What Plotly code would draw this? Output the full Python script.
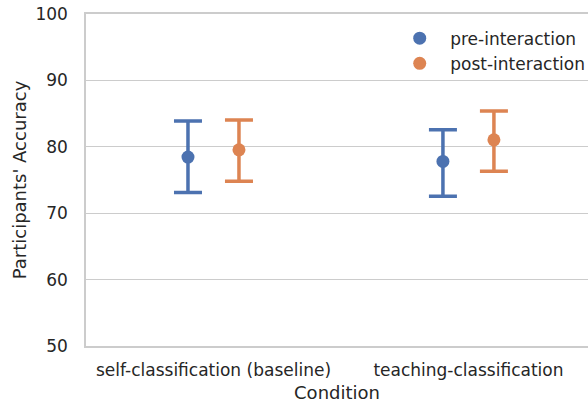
import plotly.graph_objects as go

categories = ["self-classification (baseline)", "teaching-classification"]
series_names = ["pre-interaction", "post-interaction"]
means = {
    "pre-interaction": [78.45, 77.8],
    "post-interaction": [79.55, 81.05],
}
ci_low = {
    "pre-interaction": [73.1, 72.55],
    "post-interaction": [74.8, 76.3],
}
ci_high = {
    "pre-interaction": [83.9, 82.55],
    "post-interaction": [84.05, 85.4],
}
colors = {"pre-interaction": "#4c72b0", "post-interaction": "#dd8452"}
dodge = {"pre-interaction": -0.1, "post-interaction": 0.1}
y_ticks = [50, 60, 70, 80, 90, 100]

fig = go.Figure()
for name in series_names:
    xs = [i + dodge[name] for i in range(len(categories))]
    m = means[name]
    fig.add_trace(go.Scatter(
        x=xs, y=m, mode="markers", name=name,
        marker=dict(color=colors[name], size=13, line=dict(width=0)),
        error_y=dict(
            type="data", symmetric=False,
            array=[h - v for h, v in zip(ci_high[name], m)],
            arrayminus=[v - l for l, v in zip(ci_low[name], m)],
            color=colors[name], thickness=3.5, width=14,
        ),
    ))

fig.update_layout(
    width=588, height=405,
    margin=dict(l=86, r=0, t=14, b=59, autoexpand=False),
    paper_bgcolor="white", plot_bgcolor="white",
    font=dict(family="DejaVu Sans", color="#262626", size=17),
    showlegend=True,
    legend=dict(
        x=0.604, xanchor="left", y=0.98, yanchor="top",
        bgcolor="rgba(255,255,255,0)", borderwidth=0,
        font=dict(size=17), tracegroupgap=0, itemwidth=51,
    ),
    xaxis=dict(
        range=[-0.5, 1.469], automargin=False,
        tickmode="array", tickvals=list(range(len(categories))), ticktext=categories,
        showgrid=False, zeroline=False,
        showline=True, linecolor="#cccccc", linewidth=1.5, mirror=True,
        ticks="", tickfont=dict(size=17), ticklabelstandoff=8,
        title=dict(text="Condition", font=dict(size=18), standoff=7),
    ),
    yaxis=dict(
        range=[50, 100], tickvals=y_ticks, automargin=False,
        showgrid=True, gridcolor="#cccccc", gridwidth=1,
        zeroline=False, showline=True, linecolor="#cccccc", linewidth=1.5,
        ticks="", tickfont=dict(size=17), ticklabelstandoff=13,
        title=dict(text="Participants' Accuracy", font=dict(size=18), standoff=4),
    ),
)

fig.write_html("out.html", config={"displayModeBar": False},
               post_script="document.body.style.margin='0';")
